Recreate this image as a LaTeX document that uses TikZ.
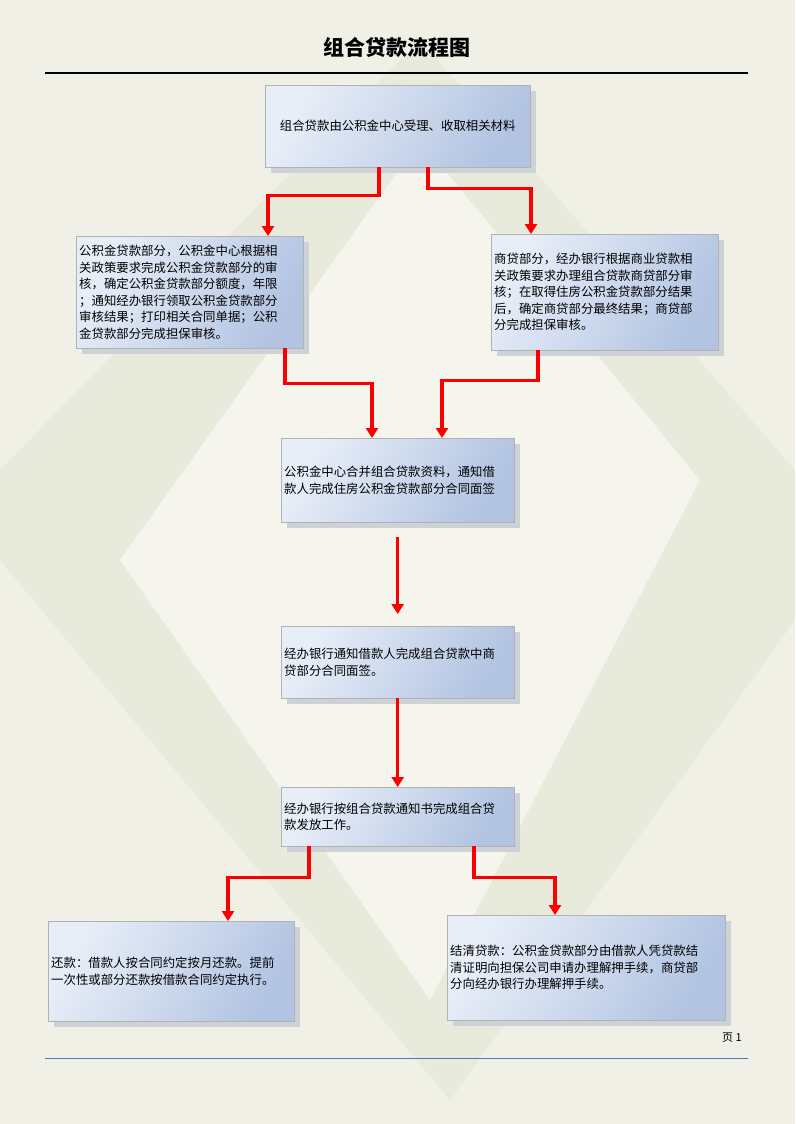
\documentclass[tikz,border=0pt]{standalone}
\usepackage{fontspec}
\setmainfont{Noto Sans CJK SC}
\usetikzlibrary{arrows.meta, positioning, calc}
\definecolor{pagefill}{RGB}{240,240,230}
\definecolor{diamondfill}{RGB}{232,234,220}
\definecolor{boxlight}{RGB}{232,238,248}
\definecolor{boxdark}{RGB}{178,196,226}
\definecolor{boxshadow}{RGB}{205,210,215}
\definecolor{flowred}{RGB}{250,0,0}
\definecolor{footblue}{RGB}{70,120,200}
\tikzset{
    box/.style={
        rectangle,
        draw=gray!60,
        left color=boxlight,
        right color=boxdark,
        shading angle=60,
        align=left,
        inner sep=3pt,
        font=\fontsize{12.4}{16.5}\selectfont,
        anchor=north west
    },
    flow/.style={
        draw=flowred,
        line width=3.5pt,
        -{Triangle[length=10pt,width=12pt]}
    }
}
\newcommand{\flowbox}[6]{%
    % shadow, then box
    \fill[boxshadow] (#2+6,#3+6) rectangle (#4+6,#5+6);
    \node[box, minimum width=#4-#2, minimum height=#5-#3, text width=#4-#2-6] (#1) at (#2,#3) {#6};
}
\begin{document}
\begin{tikzpicture}[x=1pt, y=-1pt]
\useasboundingbox (0,0) rectangle (795,1124);
\fill[pagefill] (0,0) rectangle (795,1124);
\fill[diamondfill] (420,40) -- (795,470) -- (795,620) -- (450,1100) -- (0,560) -- (0,470) -- cycle;
\fill[pagefill!70!white] (420,140) -- (700,480) -- (430,1000) -- (120,560) -- cycle;

% Title
\node[font=\fontsize{21}{24}\selectfont\bfseries] (title) at (397,47) {组合贷款流程图};
\draw[line width=1.2pt] (45,73) -- (748,73);

% Boxes
\flowbox{accept}{265}{85}{530}{167}{\hfil 组合贷款由公积金中心受理、收取相关材料\hfil}
\flowbox{fund}{76}{236}{303}{348}{公积金贷款部分，公积金中心根据相\\关政策要求完成公积金贷款部分的审\\核，确定公积金贷款部分额度，年限\\；通知经办银行领取公积金贷款部分\\审核结果；打印相关合同单据；公积\\金贷款部分完成担保审核。}
\flowbox{comm}{491}{234}{718}{350}{商贷部分，经办银行根据商业贷款相\\关政策要求办理组合贷款商贷部分审\\核；在取得住房公积金贷款部分结果\\后，确定商贷部分最终结果；商贷部\\分完成担保审核。}
\flowbox{merge}{281}{438}{514}{522}{公积金中心合并组合贷款资料，通知借\\款人完成住房公积金贷款部分合同面签\\[14pt]}
\flowbox{sign}{281}{626}{514}{698}{经办银行通知借款人完成组合贷款中商\\贷部分合同面签。}
\flowbox{issue}{281}{787}{514}{846}{经办银行按组合贷款通知书完成组合贷\\款发放工作。\\[4pt]}
\flowbox{repay}{48}{921}{294}{1021}{还款：借款人按合同约定按月还款。提前\\一次性或部分还款按借款合同约定执行。\\[22pt]}
\flowbox{settle}{447}{915}{725}{1020}{结清贷款：公积金贷款部分由借款人凭贷款结\\清证明向担保公司申请办理解押手续，商贷部\\分向经办银行办理解押手续。}

% Connectors
\draw[flow] ([xshift=114pt]accept.south west) |- ++(-111,28) -| ([xshift=192pt]fund.north west);
\draw[flow] ([xshift=163pt]accept.south west) |- ++(103,21) -| ([xshift=40pt]comm.north west);
\draw[flow] ([xshift=209pt]fund.south west) |- ++(87,35) -| ([xshift=91pt]merge.north west);
\draw[flow] ([xshift=47pt]comm.south west) |- ++(-96,30) -| ([xshift=161pt]merge.north west);
\coordinate (gap) at ($(merge.south)+(0,15)$);
\draw[flow] (gap) -- ($(sign.north)+(0,-12)$);
\draw[flow] (sign.south) -- (issue.north);
\draw[flow] ([xshift=28pt]issue.south west) |- ++(-81,31) -| ([xshift=180pt]repay.north west);
\draw[flow] ([xshift=193pt]issue.south west) |- ++(81,31) -| ([xshift=108pt]settle.north west);

% Footer
\node[font=\fontsize{11}{13}\selectfont] (page) at (732,1038) {页 1};
\draw[footblue, line width=0.8pt] (45,1058) -- (748,1058);
\end{tikzpicture}
\end{document}
